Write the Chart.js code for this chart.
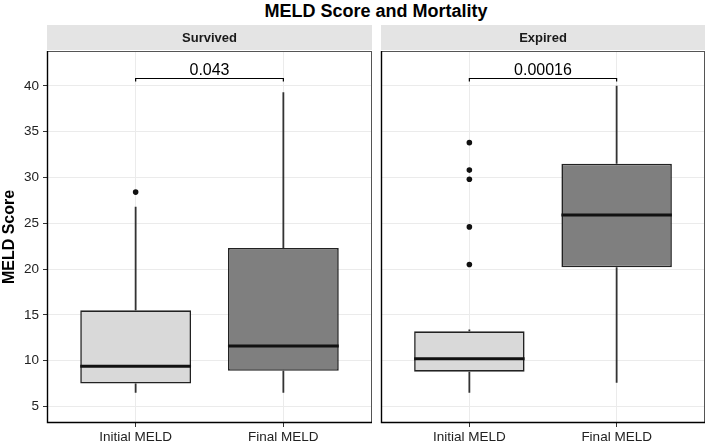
<!DOCTYPE html>
<html>
<head>
<meta charset="utf-8">
<script src="https://cdn.jsdelivr.net/npm/chart.js@4.4.1/dist/chart.umd.min.js"></script>
<style>
  body { margin: 0; background: #fff; }
  #wrap { position: relative; width: 709px; height: 445px; }
  #title {
    position: absolute; left: 176px; top: 1px; width: 400px; text-align: center;
    font: bold 18px "Liberation Sans", Arial, sans-serif; line-height: 20px; color: #000;
  }
  canvas { position: absolute; top: 0; }
</style>
</head>
<body>
<div id="wrap">
  <div id="title">MELD Score and Mortality</div>
  <canvas id="survived" width="376" height="445" style="left:0"></canvas>
  <canvas id="expired" width="333" height="445" style="left:376px"></canvas>
</div>
<script>
const categories = ["Initial MELD", "Final MELD"];
const yTicks = [5, 10, 15, 20, 25, 30, 35, 40];

// Survived panel
const survivedLow = [6.5, 6.5];
const survivedQ1 = [7.5, 8.9];
const survivedMedian = [9.4, 11.6];
const survivedQ3 = [15.5, 22.3];
const survivedHigh = [26.8, 39.3];
const survivedOutliers = [[28.4], []];

// Expired panel
const expiredLow = [6.5, 7.6];
const expiredQ1 = [8.8, 20.2];
const expiredMedian = [10.2, 25.9];
const expiredQ3 = [13.2, 31.5];
const expiredHigh = [13.4, 40.0];
const expiredOutliers = [[33.8, 30.8, 29.8, 24.6, 20.5], []];

const pSurvived = "0.043";
const pExpired = "0.00016";
const bracketLevel = 40.9;

const boxColors = ["#d9d9d9", "#7f7f7f"];
const FONT = '"Liberation Sans", Arial, sans-serif';
Chart.defaults.font.family = FONT;

function makeDecor(f) {
  return {
    id: "decor_" + f.name,
    beforeDatasetsDraw(chart) {
      const { ctx, scales: { x, y } } = chart;
      ctx.save();
      ctx.strokeStyle = "#333";
      ctx.lineWidth = 1.8;
      f.low.forEach((lo, i) => {
        const px = x.getPixelForValue(i + 1);
        ctx.beginPath();
        ctx.moveTo(px, y.getPixelForValue(lo));
        ctx.lineTo(px, y.getPixelForValue(f.q1[i]));
        ctx.moveTo(px, y.getPixelForValue(f.q3[i]));
        ctx.lineTo(px, y.getPixelForValue(f.high[i]));
        ctx.stroke();
      });
      ctx.restore();
    },
    afterDatasetsDraw(chart) {
      const { ctx, scales: { y } } = chart;
      const bars = chart.getDatasetMeta(0).data;
      ctx.save();
      ctx.strokeStyle = "#111";
      ctx.lineWidth = 3;
      bars.forEach((bar, i) => {
        const py = y.getPixelForValue(f.median[i]);
        ctx.beginPath();
        ctx.moveTo(bar.x - bar.width / 2, py);
        ctx.lineTo(bar.x + bar.width / 2, py);
        ctx.stroke();
      });
      ctx.restore();
    },
    afterDraw(chart) {
      const { ctx, chartArea: a, scales: { x, y } } = chart;
      ctx.save();
      // strip
      ctx.fillStyle = "#e4e4e4";
      ctx.fillRect(a.left, 25, a.right - a.left, 25);
      ctx.fillStyle = "#1a1a1a";
      ctx.font = "bold 13px " + FONT;
      ctx.textAlign = "center";
      ctx.textBaseline = "middle";
      ctx.fillText(f.name, (a.left + a.right) / 2, 38);
      // panel border
      ctx.strokeStyle = "#555";
      ctx.lineWidth = 1;
      ctx.strokeRect(Math.round(a.left) + 0.5, Math.round(a.top) + 0.5,
        Math.round(a.right - a.left) - 1, Math.round(a.bottom - a.top) - 1);
      ctx.strokeStyle = "#000";
      ctx.lineWidth = 1.4;
      ctx.beginPath();
      ctx.moveTo(Math.round(a.left) + 0.5, a.top);
      ctx.lineTo(Math.round(a.left) + 0.5, Math.round(a.bottom) - 0.5);
      ctx.lineTo(a.right, Math.round(a.bottom) - 0.5);
      ctx.stroke();
      // significance bracket
      const x1 = x.getPixelForValue(1), x2 = x.getPixelForValue(2);
      const by = Math.round(y.getPixelForValue(bracketLevel)) + 0.5;
      ctx.strokeStyle = "#000";
      ctx.lineWidth = 1.2;
      ctx.beginPath();
      ctx.moveTo(x1, by + 3);
      ctx.lineTo(x1, by);
      ctx.lineTo(x2, by);
      ctx.lineTo(x2, by + 3);
      ctx.stroke();
      ctx.fillStyle = "#000";
      ctx.font = "16px " + FONT;
      ctx.textBaseline = "alphabetic";
      ctx.fillText(f.p, (x1 + x2) / 2, by - 4);
      // y axis title
      if (f.yTitle) {
        ctx.translate(10, (a.top + a.bottom) / 2);
        ctx.rotate(-Math.PI / 2);
        ctx.font = "bold 16px " + FONT;
        ctx.textBaseline = "middle";
        ctx.fillText("MELD Score", 0, 0);
      }
      ctx.restore();
    }
  };
}

function buildPanel(id, f) {
  const boxes = categories.map((c, i) => ({ x: i + 1, y: [f.q1[i], f.q3[i]] }));
  const dots = [];
  f.outliers.forEach((list, i) => list.forEach((v) => dots.push({ x: i + 1, y: v })));

  return new Chart(document.getElementById(id), {
    type: "bar",
    data: {
      datasets: [
        {
          type: "bar",
          data: boxes,
          backgroundColor: boxColors,
          borderColor: "#222",
          borderWidth: 1.6,
          borderSkipped: false,
          categoryPercentage: 0.75,
          barPercentage: 1,
        },
        {
          type: "scatter",
          data: dots,
          backgroundColor: "#111",
          borderColor: "#111",
          pointRadius: 2.8,
          borderWidth: 0,
        },
      ],
    },
    options: {
      responsive: false,
      animation: false,
      layout: { padding: { left: f.yTitle ? 0 : 5, right: 4, top: 51, bottom: 0 } },
      plugins: { legend: { display: false }, tooltip: { enabled: false } },
      scales: {
        x: {
          type: "linear",
          min: 0.4,
          max: 2.6,
          offset: false,
          afterBuildTicks: (s) => { s.ticks = categories.map((c, i) => ({ value: i + 1 })); },
          afterFit: (s) => { s.height = 22; },
          ticks: {
            callback: (v) => categories[v - 1],
            color: "#222",
            font: { size: 13.5 },
            padding: 2,
            maxRotation: 0,
          },
          grid: { color: "#ebebeb", lineWidth: 1, offset: false, tickColor: "#333", tickLength: 4 },
          border: { display: false },
        },
        y: {
          min: 3.2,
          max: 43.8,
          afterBuildTicks: (s) => { s.ticks = yTicks.map((v) => ({ value: v })); },
          afterFit: (s) => { s.width = f.yTitle ? 47 : 0; },
          ticks: {
            display: f.yTitle,
            color: "#222",
            font: { size: 13.5 },
            padding: 4,
          },
          grid: { color: "#ebebeb", lineWidth: 1, tickColor: "#333", tickLength: 4, drawTicks: f.yTitle },
          border: { display: false },
        },
      },
    },
    plugins: [makeDecor(f)],
  });
}

buildPanel("survived", {
  name: "Survived", yTitle: true, p: pSurvived,
  low: survivedLow, q1: survivedQ1, median: survivedMedian, q3: survivedQ3,
  high: survivedHigh, outliers: survivedOutliers,
});
buildPanel("expired", {
  name: "Expired", yTitle: false, p: pExpired,
  low: expiredLow, q1: expiredQ1, median: expiredMedian, q3: expiredQ3,
  high: expiredHigh, outliers: expiredOutliers,
});
</script>
</body>
</html>
